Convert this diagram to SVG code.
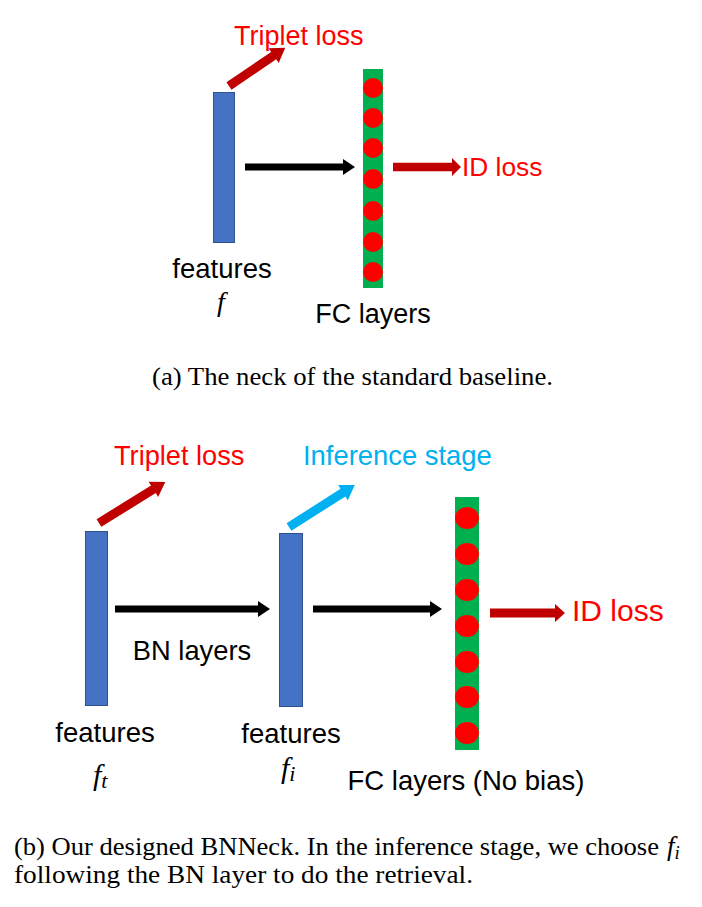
<svg xmlns="http://www.w3.org/2000/svg" width="702" height="907" viewBox="0 0 702 907">
<style>
.bar{fill:#4472C4;stroke:#2F528F;stroke-width:1}
.fc{fill:#00B050}
.dot{fill:#FF0000}
.t{font-family:"Liberation Sans",Arial,sans-serif;fill:#000}
.red{fill:#FF0000}
.cyan{fill:#00B0F0}
.m{font-family:"Liberation Serif","Times New Roman",serif;font-style:italic;fill:#000}
.cap{font-family:"Liberation Serif","Times New Roman",serif;fill:#000;font-size:26px}
.ar{fill:#C00000}
.ab{fill:#000}
.ac{fill:#00B0F0}
</style>
<rect width="702" height="907" fill="#fff"/>
<g id="connectors">
<polygon class="ar" transform="translate(229,86) rotate(-34.2)" points="0,-4.5 54,-4.5 54,-9 68,0 54,9 54,4.5 0,4.5"/>
<polygon class="ab" points="245,163.5 343,163.5 343,159 355,167 343,175 343,170.5 245,170.5"/>
<polygon class="ar" points="393,162.7 452,162.7 452,158 461,167 452,176 452,171.3 393,171.3"/>
<polygon class="ar" transform="translate(99,523) rotate(-31.8)" points="0,-4.5 64,-4.5 64,-9 78,0 64,9 64,4.5 0,4.5"/>
<polygon class="ac" transform="translate(289,527) rotate(-32.5)" points="0,-4.5 64,-4.5 64,-9 78,0 64,9 64,4.5 0,4.5"/>
<polygon class="ab" points="115,605.5 258,605.5 258,601 270,609 258,617 258,612.5 115,612.5"/>
<polygon class="ab" points="313,605.5 430,605.5 430,601 442,609 430,617 430,612.5 313,612.5"/>
<polygon class="ar" points="490,608.5 555,608.5 555,604 565,613 555,622 555,617.5 490,617.5"/>
</g>
<g id="a-features">
<rect class="bar" x="213.5" y="92.5" width="21" height="150"/>
<text class="t" x="222" y="278" font-size="27.5" text-anchor="middle">features</text>
<text class="m" x="221" y="311" font-size="28" text-anchor="middle">f</text>
</g>
<g id="a-fc">
<rect class="fc" x="363" y="69" width="20" height="219"/>
<circle class="dot" cx="373" cy="88" r="10"/>
<circle class="dot" cx="373" cy="118" r="10"/>
<circle class="dot" cx="373" cy="148" r="10"/>
<circle class="dot" cx="373" cy="179" r="10"/>
<circle class="dot" cx="373" cy="211" r="10"/>
<circle class="dot" cx="373" cy="242" r="10"/>
<circle class="dot" cx="373" cy="272" r="10"/>
<text class="t" x="373" y="323" font-size="27" text-anchor="middle">FC layers</text>
</g>
<g id="a-triplet"><text class="t red" x="234" y="45" font-size="27">Triplet loss</text></g>
<g id="a-id"><text class="t red" x="462" y="176" font-size="26.3">ID loss</text></g>
<text class="cap" x="152" y="385" textLength="401" lengthAdjust="spacingAndGlyphs">(a)  The neck of the standard baseline.</text>
<g id="b-ft">
<rect class="bar" x="85.5" y="531.5" width="22" height="174"/>
<text class="t" x="105" y="742" font-size="27.5" text-anchor="middle">features</text>
<text class="m" x="93" y="785" font-size="30">f<tspan font-size="22" dy="3">t</tspan></text>
</g>
<g id="b-fi">
<rect class="bar" x="279.5" y="533.5" width="23" height="173"/>
<text class="t" x="291" y="743" font-size="27.5" text-anchor="middle">features</text>
<text class="m" x="281" y="778" font-size="30">f<tspan font-size="22" dy="3">i</tspan></text>
</g>
<g id="b-bn"><text class="t" x="192" y="660" font-size="27.3" text-anchor="middle">BN layers</text></g>
<g id="b-fc">
<rect class="fc" x="455" y="497" width="24" height="253"/>
<ellipse class="dot" cx="467" cy="518" rx="12" ry="11"/>
<ellipse class="dot" cx="467" cy="554" rx="12" ry="11"/>
<ellipse class="dot" cx="467" cy="590" rx="12" ry="11"/>
<ellipse class="dot" cx="467" cy="626" rx="12" ry="11"/>
<ellipse class="dot" cx="467" cy="662" rx="12" ry="11"/>
<ellipse class="dot" cx="467" cy="697" rx="12" ry="11"/>
<ellipse class="dot" cx="467" cy="733" rx="12" ry="11"/>
<text class="t" x="466" y="790" font-size="27.5" text-anchor="middle">FC layers (No bias)</text>
</g>
<g id="b-triplet"><text class="t red" x="114" y="465" font-size="27.2">Triplet loss</text></g>
<g id="b-inference"><text class="t cyan" x="303" y="465" font-size="27.4">Inference stage</text></g>
<g id="b-id"><text class="t red" x="572" y="621" font-size="30">ID loss</text></g>
<text class="cap" x="14" y="855" textLength="645" lengthAdjust="spacingAndGlyphs">(b)  Our designed BNNeck. In the inference stage, we choose</text>
<text class="m" x="667" y="855" font-size="27">f<tspan font-size="19" dy="4">i</tspan></text>
<text class="cap" x="14" y="883" textLength="459" lengthAdjust="spacingAndGlyphs">following the BN layer to do the retrieval.</text>
</svg>
